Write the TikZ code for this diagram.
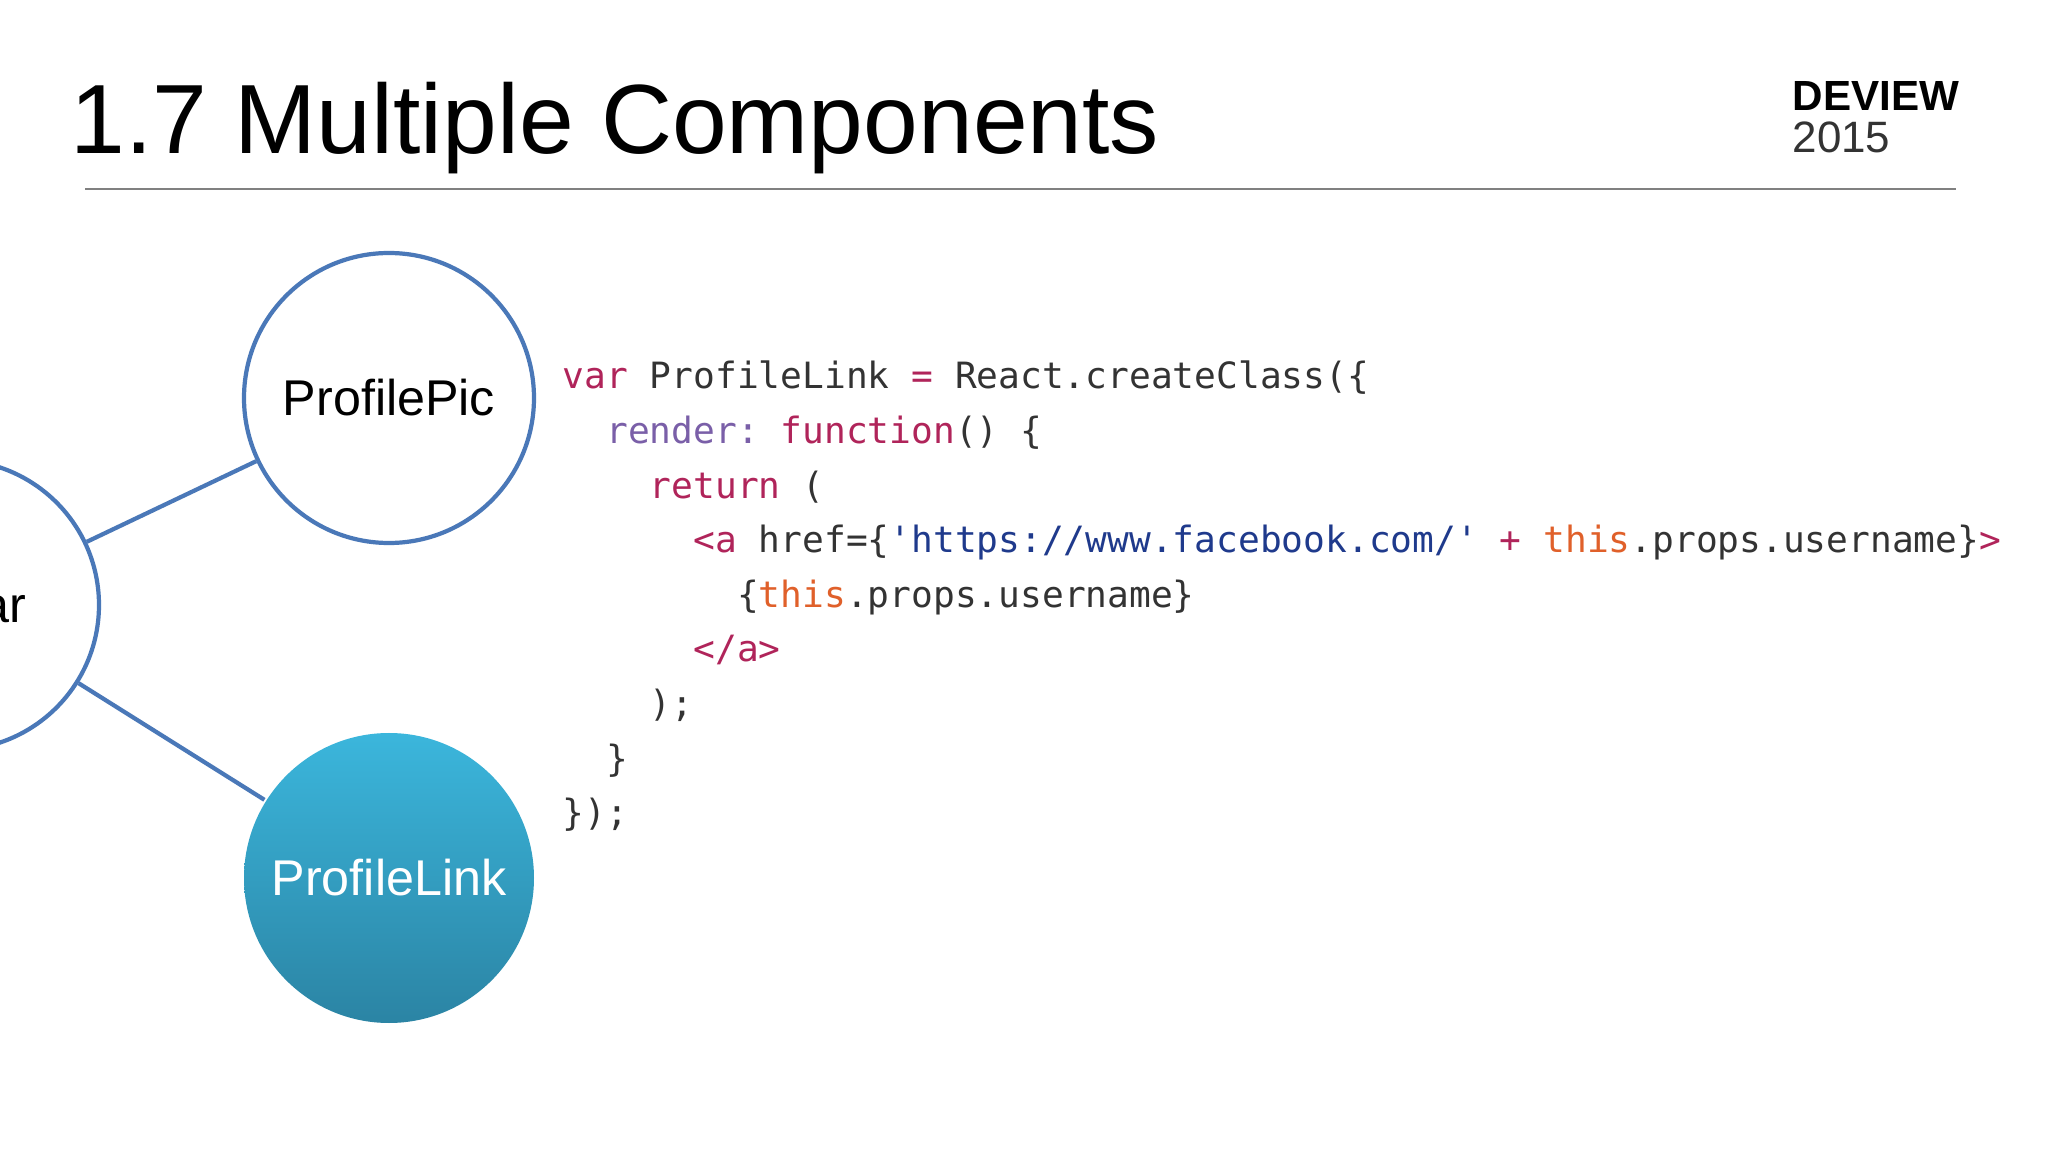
\documentclass[tikz,border=0pt]{standalone}
\usepackage{fontspec}
\setmainfont{Liberation Sans}
\setmonofont{DejaVu Sans Mono}
\usepackage{tikz}
\usetikzlibrary{positioning}

\definecolor{ringblue}{HTML}{4A78B8}
\definecolor{kwred}{HTML}{B0245A}
\definecolor{propviolet}{HTML}{7A5FA8}
\definecolor{strblue}{HTML}{1F3A8C}
\definecolor{thisorange}{HTML}{E0602A}
\definecolor{plaingray}{HTML}{333333}
\definecolor{linktop}{HTML}{3BB6DC}
\definecolor{linkbottom}{HTML}{2B84A4}

\newcommand{\kw}[1]{\textcolor{kwred}{#1}}
\newcommand{\pv}[1]{\textcolor{propviolet}{#1}}
\newcommand{\st}[1]{\textcolor{strblue}{#1}}
\newcommand{\ths}[1]{\textcolor{thisorange}{#1}}

\begin{document}
\begin{tikzpicture}[
    comp/.style={circle, draw=ringblue, line width=1.2pt, minimum size=2.9cm,
        inner sep=0pt, font=\fontsize{14.3}{16}\selectfont},
    active/.style={comp, draw=none, top color=linktop, bottom color=linkbottom, text=white},
    link/.style={draw=ringblue, line width=1.2pt},
    code/.style={anchor=base west, inner sep=0pt, text=plaingray,
        font=\ttfamily\fontsize{10.3}{12}\selectfont}
]
\useasboundingbox (0,0) rectangle (20.48,-11.52);
\fill[white] (0,0) rectangle (20.48,-11.52);

% heading
\node[anchor=base west, inner sep=0pt, font=\fontsize{28}{30}\selectfont] (title) at (0.70,-1.54) {1.7 Multiple Components};
\node[anchor=base west, inner sep=0pt, font=\bfseries\fontsize{12}{14}\selectfont] (brand) at (17.92,-1.11) {DEVIEW};
\node[anchor=base west, inner sep=0pt, font=\fontsize{12.5}{14}\selectfont, text=plaingray] (year) at (17.92,-1.53) {2015};
\draw[gray, line width=0.5pt] (0.85,-1.89) coordinate (rulestart) -- (19.56,-1.89) coordinate (ruleend);

% component tree
\node[comp] (avatar) at (-0.46,-6.05) {Avatar};
\node[comp] (pic) at (3.89,-3.98) {ProfilePic};
\node[active] (plink) at (3.89,-8.78) {ProfileLink};
\draw[link] (avatar) -- (pic);
\draw[link] (avatar) -- (plink);

% source
\node[code] (l1) at (5.62,-3.89) {\kw{var} ProfileLink \kw{=} React.createClass(\{};
\node[code] (l2) at (6.056,-4.44) {\pv{render:} \kw{function}() \{};
\node[code] (l3) at (6.492,-4.985) {\kw{return} (};
\node[code] (l4) at (6.928,-5.53) {\kw{<a} href=\{\st{'https://www.facebook.com/'} \kw{+} \ths{this}.props.username\}\kw{>}};
\node[code] (l5) at (7.364,-6.075) {\{\ths{this}.props.username\}};
\node[code] (l6) at (6.928,-6.62) {\kw{</a>}};
\node[code] (l7) at (6.492,-7.165) {);};
\node[code] (l8) at (6.056,-7.71) {\}};
\node[code] (l9) at (5.62,-8.255) {\});};
\end{tikzpicture}
\end{document}
